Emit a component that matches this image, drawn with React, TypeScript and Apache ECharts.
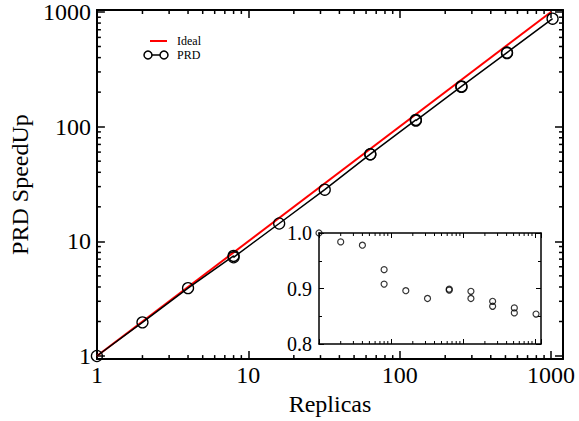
import React, { useEffect, useRef } from "react";
import * as echarts from "echarts";

// ---- data ----
const REPLICAS = [1, 2, 4, 8, 8, 16, 32, 64, 64, 128, 128, 256, 256, 512, 512, 1024];
const SPEEDUP = [1.0, 1.965, 3.91, 7.47, 7.26, 14.3, 28.2, 57.5, 57.4, 114.6, 112.9, 224.5, 222.2, 442.9, 438.3, 874];
const EFFICIENCY = [1.0, 0.984, 0.978, 0.934, 0.908, 0.896, 0.882, 0.899, 0.897, 0.895, 0.882, 0.877, 0.868, 0.865, 0.856, 0.854];
const IDEAL_X = [1, 1000];
const IDEAL_Y = [1, 1000];
const MINOR_LOG_TICKS = [2, 3, 4, 5, 6, 7, 8, 9, 20, 30, 40, 50, 60, 70, 80, 90, 200, 300, 400, 500, 600, 700, 800, 900];
const INSET_Y_TICKS = [0.8, 0.9, 1.0];

const X_MIN = 1;
const X_MAX = 1200;
const Y_MIN = 0.94;
const Y_MAX = 1040;
const IN_Y_MIN = 0.8;
const IN_Y_MAX = 1.0;

const FONT = "Liberation Serif";

const logLabel = (v: number) => {
  const l = Math.log10(v);
  if (Math.abs(l - Math.round(l)) < 1e-6) return String(Math.round(Math.pow(10, Math.round(l))));
  return "";
};

export default function App() {
  const ref = useRef<HTMLDivElement>(null);
  useEffect(() => {
    if (!ref.current) return;
    const chart = echarts.init(ref.current, undefined, { renderer: "svg" });

    const mainAxisLine = { show: true, lineStyle: { color: "#000", width: 2 } };
    const mainTick = { show: true, inside: true, length: 8, lineStyle: { color: "#000", width: 1.5 } };
    const insetAxisLine = { show: true, lineStyle: { color: "#000", width: 1.5 } };
    const insetTick = { show: true, inside: true, length: 5, lineStyle: { color: "#000", width: 1 } };

    const mainMinorData: number[][] = [];
    MINOR_LOG_TICKS.forEach((v) => {
      if (v > X_MIN && v < X_MAX) mainMinorData.push([v, Y_MIN, 0]);
      if (v > Y_MIN && v < Y_MAX) mainMinorData.push([X_MIN, v, 1]);
    });
    const insetMinorData: number[][] = MINOR_LOG_TICKS.filter((v) => v > X_MIN && v < X_MAX).map((v) => [v, IN_Y_MIN, 0]);

    const option: any = {
      animation: false,
      backgroundColor: "#fff",
      grid: [
        { left: 96, right: 16, top: 10, bottom: 57, show: false },
        { left: 319, top: 233, width: 222, height: 111, show: true, backgroundColor: "#fff", borderWidth: 0, z: 5 },
      ],
      xAxis: [
        {
          type: "log", gridIndex: 0, position: "bottom", min: X_MIN, max: X_MAX,
          axisLine: mainAxisLine, axisTick: mainTick, splitLine: { show: false },
          axisLabel: { formatter: logLabel, color: "#000", fontSize: 24, fontFamily: FONT, margin: 4 },
          name: "Replicas", nameLocation: "middle", nameGap: 30,
          nameTextStyle: { fontSize: 24, fontFamily: FONT, color: "#000" },
        },
        {
          type: "log", gridIndex: 0, position: "top", min: X_MIN, max: X_MAX,
          axisLine: mainAxisLine, axisTick: mainTick, splitLine: { show: false }, axisLabel: { show: false },
        },
        {
          type: "log", gridIndex: 1, position: "bottom", min: X_MIN, max: X_MAX, z: 6,
          axisLine: insetAxisLine, axisTick: insetTick, splitLine: { show: false }, axisLabel: { show: false },
        },
        {
          type: "log", gridIndex: 1, position: "top", min: X_MIN, max: X_MAX, z: 6,
          axisLine: insetAxisLine, axisTick: insetTick, splitLine: { show: false }, axisLabel: { show: false },
        },
      ],
      yAxis: [
        {
          type: "log", gridIndex: 0, position: "left", min: Y_MIN, max: Y_MAX,
          axisLine: mainAxisLine, axisTick: mainTick, splitLine: { show: false },
          axisLabel: { formatter: logLabel, color: "#000", fontSize: 24, fontFamily: FONT, margin: 6 },
          name: "PRD SpeedUp", nameLocation: "middle", nameGap: 55,
          nameTextStyle: { fontSize: 24, fontFamily: FONT, color: "#000" },
        },
        {
          type: "log", gridIndex: 0, position: "right", min: Y_MIN, max: Y_MAX,
          axisLine: mainAxisLine, axisTick: mainTick, splitLine: { show: false }, axisLabel: { show: false },
        },
        {
          type: "value", gridIndex: 1, position: "left", min: IN_Y_MIN, max: IN_Y_MAX, interval: 0.1, z: 6,
          axisLine: insetAxisLine, axisTick: insetTick, splitLine: { show: false },
          minorTick: { show: true, splitNumber: 2, length: 3, lineStyle: { color: "#000", width: 1 } },
          axisLabel: {
            color: "#000", fontSize: 20, fontFamily: FONT, margin: 7,
            formatter: (v: number) => (INSET_Y_TICKS.some((t) => Math.abs(t - v) < 1e-6) ? v.toFixed(1) : ""),
          },
        },
        {
          type: "value", gridIndex: 1, position: "right", min: IN_Y_MIN, max: IN_Y_MAX, interval: 0.1, z: 6,
          axisLine: insetAxisLine, axisTick: insetTick, splitLine: { show: false },
          minorTick: { show: true, splitNumber: 2, length: 3, lineStyle: { color: "#000", width: 1 } },
          axisLabel: { show: false },
        },
      ],
      series: [
        {
          type: "custom", xAxisIndex: 0, yAxisIndex: 0, data: mainMinorData, silent: true, z: 3,
          renderItem: (params: any, api: any) => {
            const kind = api.value(2);
            const style = { stroke: "#000", lineWidth: 1.5 };
            const L = 4;
            if (kind === 0) {
              const v = api.value(0);
              const b = api.coord([v, Y_MIN]);
              const t = api.coord([v, Y_MAX]);
              return {
                type: "group",
                children: [
                  { type: "line", shape: { x1: b[0], y1: b[1], x2: b[0], y2: b[1] - L }, style },
                  { type: "line", shape: { x1: t[0], y1: t[1], x2: t[0], y2: t[1] + L }, style },
                ],
              };
            }
            const v = api.value(1);
            const l = api.coord([X_MIN, v]);
            const r = api.coord([X_MAX, v]);
            return {
              type: "group",
              children: [
                { type: "line", shape: { x1: l[0], y1: l[1], x2: l[0] + L, y2: l[1] }, style },
                { type: "line", shape: { x1: r[0], y1: r[1], x2: r[0] - L, y2: r[1] }, style },
              ],
            };
          },
        },
        {
          type: "line", name: "Ideal", xAxisIndex: 0, yAxisIndex: 0,
          data: IDEAL_X.map((x, i) => [x, IDEAL_Y[i]]),
          symbol: "none", lineStyle: { color: "#ff0000", width: 2 }, z: 3,
        },
        {
          type: "line", name: "PRD", xAxisIndex: 0, yAxisIndex: 0,
          data: REPLICAS.map((x, i) => [x, SPEEDUP[i]]),
          symbol: "circle", symbolSize: 11, clip: false,
          itemStyle: { color: "transparent", borderColor: "#000", borderWidth: 1.3 },
          lineStyle: { color: "#000", width: 1.5 }, z: 4,
        },
        {
          type: "custom", xAxisIndex: 2, yAxisIndex: 2, data: insetMinorData, silent: true, z: 7,
          renderItem: (params: any, api: any) => {
            const v = api.value(0);
            const b = api.coord([v, IN_Y_MIN]);
            const t = api.coord([v, IN_Y_MAX]);
            const style = { stroke: "#000", lineWidth: 1 };
            const L = 3;
            return {
              type: "group",
              children: [
                { type: "line", shape: { x1: b[0], y1: b[1], x2: b[0], y2: b[1] - L }, style },
                { type: "line", shape: { x1: t[0], y1: t[1], x2: t[0], y2: t[1] + L }, style },
              ],
            };
          },
        },
        {
          type: "scatter", name: "Efficiency", xAxisIndex: 2, yAxisIndex: 2,
          data: REPLICAS.map((x, i) => [x, EFFICIENCY[i]]),
          symbol: "circle", symbolSize: 6, clip: false, z: 8,
          itemStyle: { color: "transparent", borderColor: "#000", borderWidth: 1.2 },
        },
      ],
      graphic: [
        { type: "line", shape: { x1: 150, y1: 41, x2: 167, y2: 41 }, style: { stroke: "#ff0000", lineWidth: 2 } },
        { type: "text", x: 177, y: 41, style: { text: "Ideal", fontFamily: FONT, fontSize: 12, fill: "#000", verticalAlign: "middle" } },
        { type: "line", shape: { x1: 148, y1: 55, x2: 164, y2: 55 }, style: { stroke: "#000", lineWidth: 1.5 } },
        { type: "circle", shape: { cx: 148, cy: 55, r: 4 }, style: { stroke: "#000", fill: "#fff", lineWidth: 1.5 } },
        { type: "circle", shape: { cx: 164, cy: 55, r: 4 }, style: { stroke: "#000", fill: "#fff", lineWidth: 1.5 } },
        { type: "text", x: 177, y: 55, style: { text: "PRD", fontFamily: FONT, fontSize: 12, fill: "#000", verticalAlign: "middle" } },
      ],
    };

    chart.setOption(option);
    return () => chart.dispose();
  }, []);

  return <div ref={ref} style={{ width: 579, height: 421, position: "absolute", left: 0, top: 0 }} />;
}
